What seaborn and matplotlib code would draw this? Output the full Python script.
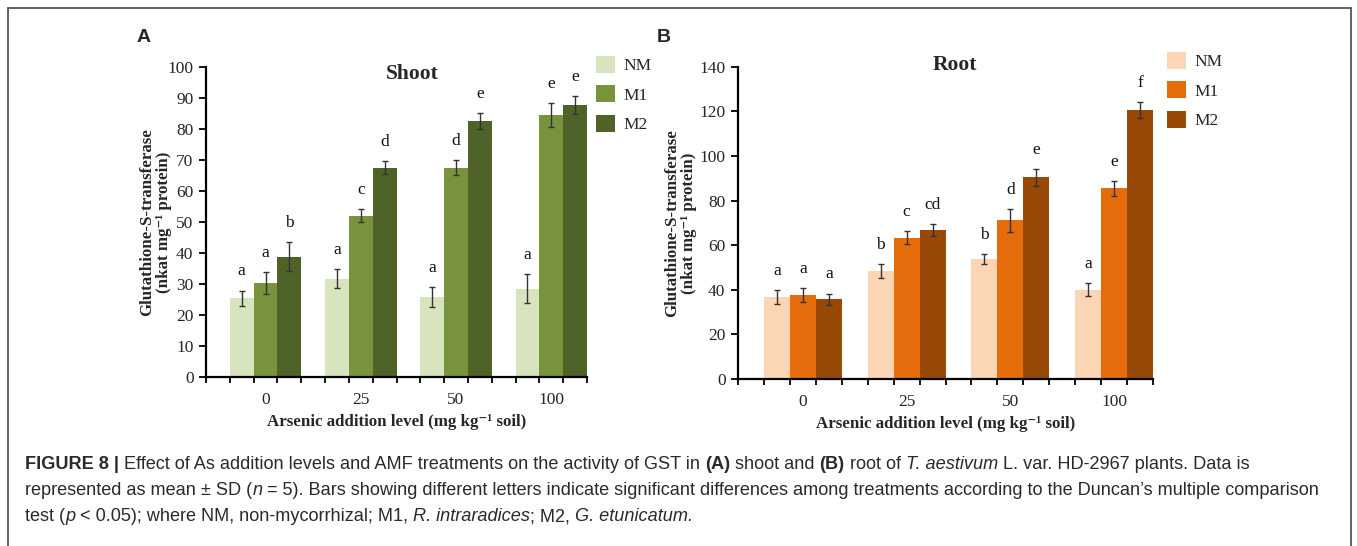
import numpy as np
import pandas as pd
import matplotlib
matplotlib.use("Agg")
import matplotlib.pyplot as plt
from matplotlib.patches import Patch, Rectangle
from matplotlib.ticker import FixedLocator
import seaborn as sns

# ---- data -----------------------------------------------------------------
levels = ["0", "25", "50", "100"]
treatments = ["NM", "M1", "M2"]

shoot_nm = [25.4, 31.7, 25.8, 28.5]
shoot_m1 = [30.3, 51.9, 67.5, 84.5]
shoot_m2 = [38.8, 67.5, 82.5, 87.6]
shoot_nm_sd = [2.45, 3.1, 3.2, 4.6]
shoot_m1_sd = [3.5, 2.1, 2.5, 3.9]
shoot_m2_sd = [4.6, 2.0, 2.6, 2.8]
shoot_nm_let = ["a", "a", "a", "a"]
shoot_m1_let = ["a", "c", "d", "e"]
shoot_m2_let = ["b", "d", "e", "e"]

root_nm = [36.6, 48.6, 53.7, 40.1]
root_m1 = [37.7, 63.4, 71.1, 85.4]
root_m2 = [35.7, 66.8, 90.4, 120.6]
root_nm_sd = [3.1, 3.1, 2.2, 2.8]
root_m1_sd = [3.0, 3.1, 5.0, 3.3]
root_m2_sd = [2.6, 2.6, 3.9, 3.6]
root_nm_let = ["a", "b", "b", "a"]
root_m1_let = ["a", "c", "d", "e"]
root_m2_let = ["a", "cd", "e", "f"]

shoot_colors = ["#d7e4bd", "#77933c", "#4f6228"]
root_colors = ["#fcd5b5", "#e46c0a", "#984807"]

# ---- style ----------------------------------------------------------------
sns.set_style("white")
serif = "Liberation Serif"
sans = "Liberation Sans"
plt.rcParams["font.family"] = [serif, "DejaVu Serif"]

FS = 12.5
LFS = 12.2
W, H = 1357, 546
fig = plt.figure(figsize=(W / 100, H / 100), dpi=100)


def frac_box(left, top, right, bottom):
    return [left / W, 1 - bottom / H, (right - left) / W, (bottom - top) / H]


def long_table(nm, m1, m2):
    rows = []
    for t, vals in zip(treatments, [nm, m1, m2]):
        for lv, v in zip(levels, vals):
            rows.append({"level": lv, "treatment": t, "value": v})
    return pd.DataFrame(rows)


def panel(box, nm, m1, m2, sds, lets, colors, ymax, ystep, title, title_xy,
          ylabelpad, leg_anchor, letter, letter_xy):
    ax = fig.add_axes(frac_box(*box))
    df = long_table(nm, m1, m2)
    sns.barplot(data=df, x="level", y="value", hue="treatment",
                hue_order=treatments, order=levels, palette=colors,
                saturation=1, width=0.75, errorbar=None, linewidth=0,
                legend=False, ax=ax)
    for cont, sd, lt in zip(ax.containers, sds, lets):
        xs = [b.get_x() + b.get_width() / 2 for b in cont]
        hs = [b.get_height() for b in cont]
        ax.errorbar(xs, hs, yerr=sd, fmt="none", ecolor="#333333",
                    elinewidth=1.0, capsize=2, capthick=1.0, zorder=3)
        for x, h, s, l in zip(xs, hs, sd, lt):
            ax.annotate(l, (x, h + s), xytext=(0, 8), textcoords="offset points",
                        ha="center", va="bottom", fontsize=FS, color="#111111")
    ax.set_xlim(-0.625, 3.375)
    ax.set_ylim(0, ymax)
    ax.set_yticks(np.arange(0, ymax + 1, ystep))
    ax.xaxis.set_minor_locator(FixedLocator(np.arange(-0.625, 3.376, 0.25)))
    ax.tick_params(axis="x", which="major", length=0, labelsize=FS, pad=11)
    ax.tick_params(axis="x", which="minor", length=4, width=1.3, direction="out",
                   color="black", bottom=True)
    ax.tick_params(axis="y", which="major", length=5, width=1.3, direction="out",
                   color="black", labelsize=FS, pad=4, left=True)
    for s in ["top", "right"]:
        ax.spines[s].set_visible(False)
    for s in ["left", "bottom"]:
        ax.spines[s].set_linewidth(1.6)
        ax.spines[s].set_color("black")
    ax.set_xlabel("Arsenic addition level (mg kg\u207b\u00b9 soil)",
                  fontsize=LFS, fontweight="bold", labelpad=4)
    ax.set_ylabel("Glutathione-S-transferase\n(nkat mg\u207b\u00b9 protein)",
                  fontsize=LFS, fontweight="bold", labelpad=ylabelpad,
                  linespacing=1.05)
    ax.text(title_xy[0], title_xy[1], title, transform=ax.transAxes,
            ha="center", va="center", fontsize=15.5, fontweight="bold")
    handles = [Patch(facecolor=c, edgecolor="none") for c in colors]
    fig.legend(handles, treatments, loc="upper left",
               bbox_to_anchor=(leg_anchor[0] / W, 1 - leg_anchor[1] / H),
               bbox_transform=fig.transFigure, frameon=False, fontsize=FS,
               handlelength=1.1, handleheight=1.15, handletextpad=0.5,
               labelspacing=0.62, borderpad=0, borderaxespad=0)
    fig.text(letter_xy[0] / W, 1 - letter_xy[1] / H, letter, family=[sans],
             fontsize=14, fontweight="bold", ha="left", va="center")
    return ax


panel((206, 66.7, 587, 377), shoot_nm, shoot_m1, shoot_m2,
      [shoot_nm_sd, shoot_m1_sd, shoot_m2_sd],
      [shoot_nm_let, shoot_m1_let, shoot_m2_let], shoot_colors, 100, 10,
      "Shoot", (0.54, 0.975), -3, (596, 56), "A", (137, 38))
panel((738, 66.7, 1153, 379), root_nm, root_m1, root_m2,
      [root_nm_sd, root_m1_sd, root_m2_sd],
      [root_nm_let, root_m1_let, root_m2_let], root_colors, 140, 20,
      "Root", (0.523, 1.005), 2, (1167, 52), "B", (657, 38))

# ---- frame around the figure ----------------------------------------------
fig.patches.append(Rectangle((8 / W, -0.2), (1351 - 8) / W, 1.2 - 8 / H,
                             transform=fig.transFigure, fill=False,
                             edgecolor="#555555", linewidth=1.3))

# ---- caption ---------------------------------------------------------------
cap_lines = [
    [("FIGURE 8 | ", "bold", "normal"),
     ("Effect of As addition levels and AMF treatments on the activity of GST in ", "normal", "normal"),
     ("(A)", "bold", "normal"), (" shoot and ", "normal", "normal"),
     ("(B)", "bold", "normal"), (" root of ", "normal", "normal"),
     ("T. aestivum", "normal", "italic"),
     (" L. var. HD-2967 plants. Data is", "normal", "normal")],
    [("represented as mean \u00b1 SD (", "normal", "normal"), ("n", "normal", "italic"),
     (" = 5). Bars showing different letters indicate significant differences among "
      "treatments according to the Duncan\u2019s multiple comparison", "normal", "normal")],
    [("test (", "normal", "normal"), ("p", "normal", "italic"),
     (" < 0.05); where NM, non-mycorrhizal; M1, ", "normal", "normal"),
     ("R. intraradices", "normal", "italic"), ("; M2, ", "normal", "normal"),
     ("G. etunicatum.", "normal", "italic")],
]
cap_fs = 13.1
renderer = fig.canvas.get_renderer()
baselines = [469, 495, 521]
for line, yb in zip(cap_lines, baselines):
    x = 25.0
    for txt, wt, st in line:
        t = fig.text(x / W, 1 - yb / H, txt, family=[sans, "DejaVu Sans"],
                     fontsize=cap_fs, fontweight=wt, fontstyle=st,
                     color="#2a2a2a", ha="left", va="baseline")
        x += t.get_window_extent(renderer).width

fig.savefig("out.png", dpi=100)
